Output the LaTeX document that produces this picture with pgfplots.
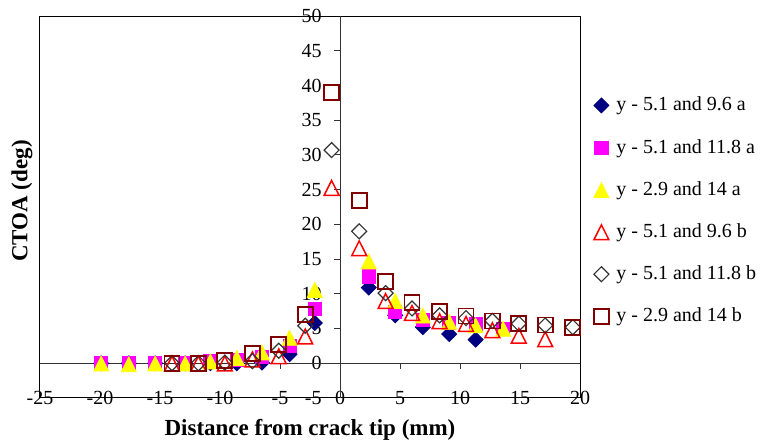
\documentclass[border=0pt]{standalone}
\usepackage{pgfplots}
\pgfplotsset{compat=1.18}
\usepackage{fontspec}
\setmainfont{Liberation Serif}

\definecolor{sNavy}{RGB}{0,0,128}
\definecolor{sPink}{RGB}{255,0,255}
\definecolor{sYellow}{RGB}{255,255,0}
\definecolor{sRed}{RGB}{255,0,0}
\definecolor{sGray}{RGB}{51,51,51}
\definecolor{sMaroon}{RGB}{128,0,0}

\begin{document}
\begin{tikzpicture}
\begin{axis}[
  scale only axis,
  width=270pt, height=191pt,
  xmin=-25, xmax=20, ymin=-5, ymax=50,
  xtick={-25,-20,...,20},
  ytick={-5,0,...,50},
  xtick style={draw=none}, ytick style={draw=none},
  /pgf/number format/assume math mode=true,
  tick label style={font=\fontsize{10}{12}\selectfont},
  xticklabel style={anchor=center, inner sep=0pt},
  yticklabel style={anchor=east, inner sep=0pt, xshift=141pt},
  axis line style={line width=0.5pt},
  xlabel={Distance from crack tip (mm)},
  ylabel={CTOA (deg)},
  label style={font=\fontsize{11.5}{13}\selectfont\bfseries},
  xlabel style={at={(axis description cs:0.5,0)}, anchor=base, yshift=-18.5pt},
  ylabel style={at={(axis description cs:0,0.5)}, anchor=center, yshift=9pt, xshift=3pt},
  clip=false,
  legend cell align=left,
  legend image code/.code={
    \path[draw=none, fill=none] (-6pt,-6pt) rectangle (6pt,6pt);
    \draw[#1] plot coordinates {(0pt,0pt)};
  },
  legend style={
    at={(axis description cs:1,1)}, anchor=north west,
    xshift=4.5pt, yshift=-38.5pt,
    draw=none, fill=none, inner sep=0pt,
    row sep=9.1pt, column sep=1.5pt,
    font=\fontsize{10}{12}\selectfont,
    nodes={inner sep=0pt},
  },
]
% zero lines with their tick marks
\draw[line width=0.5pt, black!80] (axis cs:-25,0) -- (axis cs:20,0);
\pgfplotsinvokeforeach{-20,-15,-10,-5,5,10,15}{
  \draw[line width=0.5pt, black!80] (axis cs:#1,0) -- ([yshift=-3pt]axis cs:#1,0);
}
\draw[line width=0.5pt, black!80] (axis cs:0,-5) -- (axis cs:0,50);
\pgfplotsinvokeforeach{5,10,15,20,25,30,35,40,45}{
  \draw[line width=0.5pt, black!80] (axis cs:0,#1) -- ([xshift=-3pt]axis cs:0,#1);
}

% y - 5.1 and 9.6 a
\addplot[only marks, mark=square*, mark size=2.65pt,
  mark options={rotate=45, draw=sNavy, fill=sNavy}] coordinates {
  (-19.9,0) (-17.6,0) (-15.4,0) (-12.9,0) (-10.8,0) (-8.6,0)
  (-6.5,0.1) (-4.2,1.3) (-2.1,5.8)
  (2.4,10.9) (4.6,6.9) (6.9,5.2) (9.1,4.2) (11.3,3.4)
};
\addlegendentry{y - 5.1 and 9.6 a}

% y - 5.1 and 11.8 a
\addplot[only marks, mark=square*, mark size=3.3pt,
  mark options={draw=sPink, fill=sPink}] coordinates {
  (-19.9,0) (-17.6,0) (-15.4,0) (-12.9,0.1) (-10.8,0.3) (-8.6,0.5)
  (-6.5,0.9) (-4.2,2.5) (-2.1,7.8)
  (2.4,12.5) (4.6,7.4) (6.9,6.3) (9.1,5.8) (11.3,5.6) (13.6,5.0)
};
\addlegendentry{y - 5.1 and 11.8 a}

% y - 2.9 and 14 a
\addplot[only marks, mark=triangle*, mark size=4.3pt,
  mark options={yscale=1.15, yshift=-1.2pt, draw=sYellow, fill=sYellow}] coordinates {
  (-19.9,0) (-17.6,-0.1) (-15.4,0) (-12.9,0) (-10.8,0.3) (-8.6,0.8)
  (-6.5,1.6) (-4.2,3.7) (-2.1,10.6)
  (2.4,14.7) (4.6,9.0) (6.9,6.9) (9.1,6.0) (11.3,5.5) (13.6,5.0)
};
\addlegendentry{y - 2.9 and 14 a}

% y - 5.1 and 9.6 b
\addplot[only marks, mark=triangle, mark size=4.3pt,
  mark options={yscale=1.15, yshift=-1.2pt, draw=sRed, line width=0.75pt}] coordinates {
  (-14.0,0) (-11.8,0) (-9.6,0) (-7.3,0.6) (-5.1,1.05) (-2.9,3.9) (-0.7,25.3)
  (1.6,16.6) (3.8,9.0) (6.0,7.3) (8.3,6.1) (10.5,5.7) (12.7,4.8) (14.9,4.0) (17.1,3.5)
};
\addlegendentry{y - 5.1 and 9.6 b}

% y - 5.1 and 11.8 b
\addplot[only marks, mark=square, mark size=2.65pt,
  mark options={rotate=45, draw=sGray, line width=0.6pt}] coordinates {
  (-14.0,0) (-11.8,0) (-9.6,0.1) (-7.3,0.3) (-5.1,1.8) (-2.9,5.4) (-0.7,30.7)
  (1.6,19.0) (3.8,10.1) (6.0,7.9) (8.3,6.9) (10.5,6.5) (12.7,6.1) (14.9,5.7) (17.1,5.45) (19.4,5.2)
};
\addlegendentry{y - 5.1 and 11.8 b}

% y - 2.9 and 14 b
\addplot[only marks, mark=square, mark size=3.75pt,
  mark options={draw=sMaroon, line width=0.9pt}] coordinates {
  (-14.0,0) (-11.8,0) (-9.6,0.4) (-7.3,1.4) (-5.1,2.7) (-2.9,7.0) (-0.7,39.0)
  (1.6,23.4) (3.8,11.8) (6.0,8.8) (8.3,7.5) (10.5,6.8) (12.7,6.1) (14.9,5.7) (17.1,5.5) (19.4,5.2)
};
\addlegendentry{y - 2.9 and 14 b}

\coordinate (bl) at (rel axis cs:0,0);
\coordinate (tr) at (rel axis cs:1,1);
\end{axis}
\pgfresetboundingbox
\path ([xshift=-20pt,yshift=-22.5pt]bl) rectangle ([xshift=92pt,yshift=8pt]tr);
\end{tikzpicture}
\end{document}
